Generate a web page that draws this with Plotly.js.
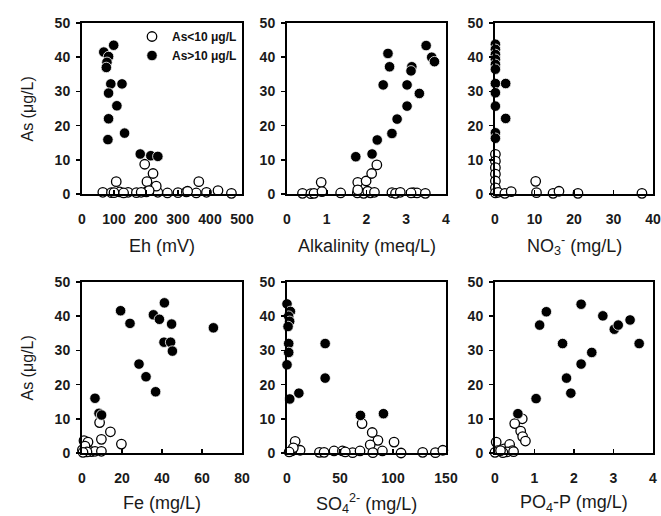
<!DOCTYPE html>
<html>
<head>
<meta charset="utf-8">
<script src="https://cdn.plot.ly/plotly-3.0.1.min.js"></script>
<style>html,body{margin:0;padding:0;background:#fff;}#chart{width:661px;height:516px;}</style>
</head>
<body>
<div id="chart"></div>
<script>
// ---- Data ----
// Panel 1: Eh (mV)
const ehLow    = [65, 92, 118, 144, 170, 201, 237, 267, 300, 326, 357, 389, 425, 467, 107, 196, 222, 203, 232, 365, 210, 330, 100, 130, 185];
const asEhLow  = [0.5, 0.4, 0.6, 0.5, 0.4, 0.6, 0.5, 0.3, 0.4, 0.6, 0.3, 0.5, 1.0, 0.2, 3.6, 8.7, 6.0, 3.6, 2.3, 3.6, 1.0, 0.8, 0.4, 0.3, 0.5];
const ehHigh   = [68, 99, 83, 78, 76, 90, 125, 83, 109, 83, 133, 81, 182, 215, 237];
const asEhHigh = [41.5, 43.5, 40.2, 38.5, 37.0, 32.2, 32.2, 29.5, 25.8, 22.0, 17.8, 15.9, 11.7, 11.2, 11.0];

// Panel 2: Alkalinity (meq/L)
const alkLow    = [0.39, 0.60, 0.68, 1.35, 1.77, 1.93, 2.10, 2.64, 2.73, 2.85, 3.18, 3.27, 3.48, 0.86, 0.88, 1.78, 1.99, 2.13, 2.26, 1.78, 2.03, 3.12, 2.20];
const asAlkLow  = [0.2, 0.1, 0.2, 0.3, 0.3, 0.2, 0.3, 0.4, 0.2, 0.5, 0.4, 0.3, 0.2, 3.4, 0.7, 3.4, 3.8, 6.0, 8.5, 1.2, 0.8, 0.3, 0.5];
const alkHigh   = [2.54, 2.58, 2.42, 2.27, 2.14, 1.73, 2.64, 2.77, 3.02, 3.02, 3.14, 3.12, 3.33, 3.50, 3.64, 3.71];
const asAlkHigh = [41.1, 37.2, 31.9, 15.8, 11.7, 10.9, 17.7, 21.9, 25.7, 31.9, 37.2, 36.0, 29.4, 43.4, 40.0, 38.7];

// Panel 3: NO3- (mg/L)
const no3Low    = [0.1, 0.1, 0.1, 0.1, 0.1, 0.1, 0.1, 0.8, 2.5, 4.1, 10.3, 10.5, 14.7, 16.2, 21.0, 37.2];
const asNo3Low  = [11.6, 9.6, 7.7, 5.8, 3.8, 1.8, 0.3, 0.5, 0.2, 0.7, 3.7, 0.4, 0.2, 0.8, 0.2, 0.2];
const no3High   = [0.1, 0.1, 0.1, 0.1, 0.1, 0.1, 0.1, 2.7, 0.1, 0.1, 2.7, 0.1, 0.1];
const asNo3High = [43.8, 42.3, 40.8, 39.4, 37.9, 36.5, 32.3, 32.3, 29.6, 25.7, 22.1, 17.9, 16.3];

// Panel 4: Fe (mg/L)
const feLow    = [8.8, 14.2, 9.7, 19.7, 1.0, 3.0, 0.2, 1.5, 4.7, 6.5, 9.7, 2.5, 0.5];
const asFeLow  = [8.9, 6.2, 4.0, 2.6, 3.6, 3.2, 0.9, 2.0, 0.4, 0.5, 0.5, 0.3, 0.2];
const feHigh   = [19.3, 24.0, 28.5, 32.0, 35.7, 36.8, 38.7, 41.2, 41.0, 44.3, 44.8, 45.2, 65.7, 6.5, 8.5, 9.8];
const asFeHigh = [41.6, 37.9, 26.0, 22.3, 40.4, 17.9, 39.1, 43.9, 32.4, 32.4, 37.7, 29.8, 36.6, 16.0, 11.6, 11.1];

// Panel 5: SO4 2- (mg/L)
const so4Low    = [7.7, 12.4, 4.5, 30.6, 44.4, 52.3, 61.9, 68.9, 70.8, 80.4, 85.8, 78.5, 81.0, 90.0, 101.0, 107.6, 128.0, 140.0, 147.0, 6.0, 55.0, 35.0, 2.0];
const asSo4Low  = [3.4, 0.8, 0.6, 0.2, 0.6, 0.6, 0.1, 0.6, 8.6, 6.0, 3.7, 2.4, 0.1, 0.6, 3.2, 0.0, 0.2, 0.1, 0.8, 1.5, 0.3, 0.2, 0.3];
const so4High   = [0.0, 3.2, 1.5, 2.5, 1.0, 1.6, 1.6, 0.0, 2.6, 11.2, 36.0, 36.0, 69.3, 91.0];
const asSo4High = [43.6, 41.4, 40.0, 38.5, 37.0, 32.0, 29.4, 25.8, 15.8, 17.5, 32.0, 21.9, 11.0, 11.5];

// Panel 6: PO4-P (mg/L)
const po4Low    = [0.69, 0.50, 0.65, 0.70, 0.77, 0.03, 0.23, 0.06, 0.37, 0.44, 0.30, 0.00, 0.20, 0.14, 0.47];
const asPo4Low  = [10.0, 8.6, 6.4, 4.8, 3.5, 3.2, 1.2, 0.7, 2.5, 0.7, 0.3, 0.2, 0.1, 0.7, 0.4];
const po4High   = [0.58, 1.04, 1.13, 1.30, 1.71, 1.81, 1.92, 2.18, 2.18, 2.45, 2.73, 3.02, 3.12, 3.42, 3.65];
const asPo4High = [11.5, 15.9, 37.4, 41.3, 32.0, 21.9, 17.5, 26.0, 43.5, 29.4, 40.1, 36.2, 37.4, 38.9, 32.0];

// Axis ranges / tick values / titles
const xRanges = [[0, 500], [0, 4], [0, 40], [0, 80], [0, 150], [0, 4]];
const xTickVals = [
  [0, 100, 200, 300, 400, 500],
  [0, 1, 2, 3, 4],
  [0, 10, 20, 30, 40],
  [0, 20, 40, 60, 80],
  [0, 50, 100, 150],
  [0, 1, 2, 3, 4]
];
const yTickVals = [0, 10, 20, 30, 40, 50];
const xTitles = ['Eh (mV)', 'Alkalinity (meq/L)', 'NO<sub>3</sub><sup>-</sup> (mg/L)',
                 'Fe (mg/L)', 'SO<sub>4</sub><sup>2-</sup> (mg/L)', 'PO<sub>4</sub>-P (mg/L)'];
const yTitle = 'As (μg/L)';
const legendNames = ['As<10 μg/L', 'As>10 μg/L'];

// ---- Build figure ----
const W = 661, H = 516;
const colsPx = [[82, 242], [287, 446], [495, 653]];
const rowsPx = [[23, 194], [282, 453]];
const titleOffset = [52, 50];
const panelData = [
  [ehLow, asEhLow, ehHigh, asEhHigh],
  [alkLow, asAlkLow, alkHigh, asAlkHigh],
  [no3Low, asNo3Low, no3High, asNo3High],
  [feLow, asFeLow, feHigh, asFeHigh],
  [so4Low, asSo4Low, so4High, asSo4High],
  [po4Low, asPo4Low, po4High, asPo4High]
];

const FAM = 'Liberation Sans, Arial, sans-serif';
const bold = v => '<b>' + v + '</b>';
const traces = [];
const layout = {
  width: W, height: H,
  margin: {l: 0, r: 0, t: 0, b: 0},
  paper_bgcolor: '#fff', plot_bgcolor: '#fff',
  showlegend: true,
  legend: {
    x: 132 / W, y: 1 - 22 / H, xanchor: 'left', yanchor: 'top',
    bgcolor: 'rgba(0,0,0,0)', borderwidth: 0,
    font: {family: FAM, size: 12, color: '#111', weight: 700},
    tracegroupgap: 0, itemwidth: 30
  },
  annotations: []
};
const mkTickFont = () => ({family: FAM, size: 14, color: '#1a1a1a'});
const xTitleFont = {family: FAM, size: 18, color: '#1a1a1a'};
const yTitleFont = {family: FAM, size: 16, color: '#1a1a1a'};

panelData.forEach((d, i) => {
  const n = i + 1;
  const xa = n === 1 ? 'x' : 'x' + n;
  const ya = n === 1 ? 'y' : 'y' + n;
  const col = i % 3, row = Math.floor(i / 3);
  const xd = [colsPx[col][0] / W, colsPx[col][1] / W];
  const yd = [1 - rowsPx[row][1] / H, 1 - rowsPx[row][0] / H];

  traces.push({
    type: 'scatter', mode: 'markers', x: d[0], y: d[1], xaxis: xa, yaxis: ya,
    name: legendNames[0], legendgroup: 'low', showlegend: i === 0, cliponaxis: false,
    marker: {symbol: 'circle', size: 9.5, color: '#fff', line: {color: '#000', width: 1.3}}
  });
  traces.push({
    type: 'scatter', mode: 'markers', x: d[2], y: d[3], xaxis: xa, yaxis: ya,
    name: legendNames[1], legendgroup: 'high', showlegend: i === 0, cliponaxis: false,
    marker: {symbol: 'circle', size: 10.5, color: '#000', line: {color: '#fff', width: 0.8}}
  });

  layout['xaxis' + (n === 1 ? '' : n)] = {
    domain: xd, anchor: ya, range: xRanges[i],
    tickmode: 'array', tickvals: xTickVals[i], ticktext: xTickVals[i].map(bold),
    showline: true, mirror: true, linecolor: '#000', linewidth: 2,
    ticks: 'inside', ticklen: 4, tickwidth: 1.5, tickcolor: '#000',
    showgrid: false, zeroline: false, tickfont: mkTickFont(), ticklabelstandoff: 11,
    ticklabeloverflow: 'allow', fixedrange: true
  };
  layout['yaxis' + (n === 1 ? '' : n)] = {
    domain: yd, anchor: xa, range: [0, 50],
    tickmode: 'array', tickvals: yTickVals, ticktext: yTickVals.map(bold),
    showline: true, mirror: true, linecolor: '#000', linewidth: 2,
    ticks: 'outside', ticklen: 4, tickwidth: 1.5, tickcolor: '#000',
    showgrid: false, zeroline: false, tickfont: mkTickFont(), ticklabelstandoff: 3,
    ticklabeloverflow: 'allow', fixedrange: true
  };

  // x-axis title
  layout.annotations.push({
    text: xTitles[i], xref: 'paper', yref: 'paper',
    x: (colsPx[col][0] + colsPx[col][1]) / 2 / W,
    y: 1 - (rowsPx[row][1] + titleOffset[row]) / H,
    xanchor: 'center', yanchor: 'middle', showarrow: false, font: xTitleFont
  });
  if (col === 0) {
    layout.annotations.push({
      text: yTitle, xref: 'paper', yref: 'paper', textangle: -90,
      x: 27 / W, y: 1 - ((rowsPx[row][0] + rowsPx[row][1]) / 2) / H,
      xanchor: 'center', yanchor: 'middle', showarrow: false, font: yTitleFont
    });
  }
});

Plotly.newPlot('chart', traces, layout, {staticPlot: true, displayModeBar: false});
</script>
</body>
</html>
